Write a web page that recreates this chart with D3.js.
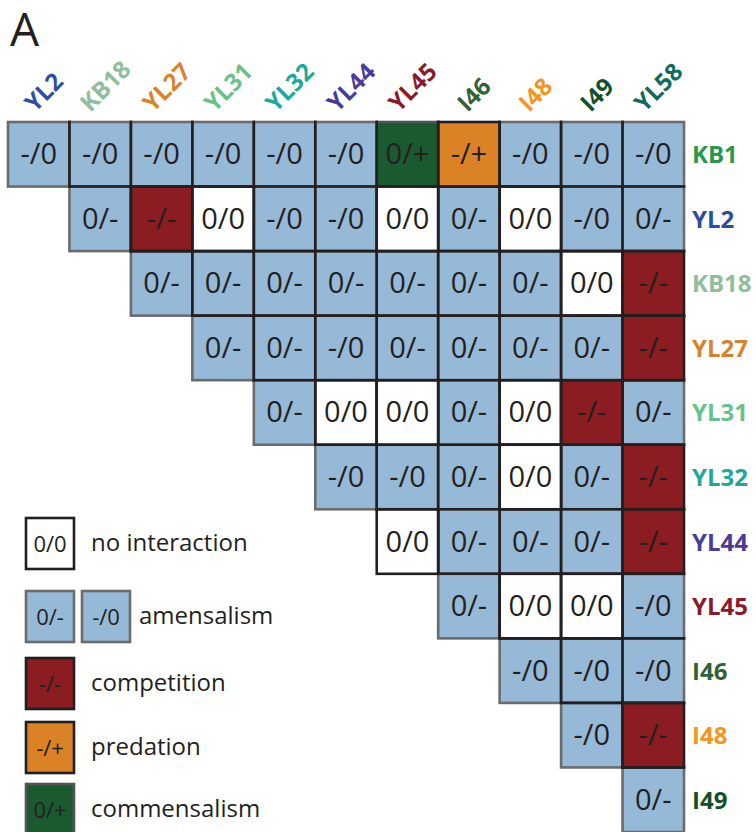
<!DOCTYPE html>
<html>
<head>
<meta charset="utf-8">
<script src="https://cdn.jsdelivr.net/npm/d3@7"></script>
<style>
  html, body { margin: 0; padding: 0; background: #fff; }
  svg { display: block; }
  text { font-family: "Open Sans", "Noto Sans", sans-serif; }
</style>
</head>
<body>
<svg id="chart" width="756" height="832"></svg>
<script>
// ---- data ----
const columns = ["YL2", "KB18", "YL27", "YL31", "YL32", "YL44", "YL45", "I46", "I48", "I49", "YL58"];
const rows = ["KB1", "YL2", "KB18", "YL27", "YL31", "YL32", "YL44", "YL45", "I46", "I48", "I49"];
// each row starts at column index equal to its row index
const interactions = [
  ["-/0", "-/0", "-/0", "-/0", "-/0", "-/0", "0/+", "-/+", "-/0", "-/0", "-/0"],
  ["0/-", "-/-", "0/0", "-/0", "-/0", "0/0", "0/-", "0/0", "-/0", "0/-"],
  ["0/-", "0/-", "0/-", "0/-", "0/-", "0/-", "0/-", "0/0", "-/-"],
  ["0/-", "0/-", "-/0", "0/-", "0/-", "0/-", "0/-", "-/-"],
  ["0/-", "0/0", "0/0", "0/-", "0/0", "-/-", "0/-"],
  ["-/0", "-/0", "0/-", "0/0", "0/-", "-/-"],
  ["0/0", "0/-", "0/-", "0/-", "-/-"],
  ["0/-", "0/0", "0/0", "-/0"],
  ["-/0", "-/0", "-/0"],
  ["-/0", "-/-"],
  ["0/-"]
];
const strainNames = ["KB1", "YL2", "KB18", "YL27", "YL31", "YL32", "YL44", "YL45", "I46", "I48", "I49", "YL58"];
const strainColors = ["#27994a", "#2a4fa3", "#8fbd9d", "#d9822b", "#66c28a", "#1ea89b", "#4a3b9b", "#8b1a2c", "#2e6239", "#f7941d", "#154f2a", "#0e6b61"];
const interactionTypes = ["0/0", "0/-", "-/0", "-/-", "-/+", "0/+"];
const interactionFills = ["#ffffff", "#95b9d7", "#95b9d7", "#8b1c21", "#db8126", "#1b5a31"];
const interactionStrokes = ["#231f20", "#6b6b6b", "#6b6b6b", "#231f20", "#231f20", "#555555"];
const legendItems = [
  { codes: ["0/0"], label: "no interaction" },
  { codes: ["0/-", "-/0"], label: "amensalism" },
  { codes: ["-/-"], label: "competition" },
  { codes: ["-/+"], label: "predation" },
  { codes: ["0/+"], label: "commensalism" }
];
const panelLabel = "A";

// ---- scales ----
const svg = d3.select("#chart");
const x = d3.scaleBand().domain(columns).range([8, 684]).padding(0);
const y = d3.scaleBand().domain(rows).range([122, 832]).padding(0);
const fill = d3.scaleOrdinal().domain(interactionTypes).range(interactionFills);
const stroke = d3.scaleOrdinal().domain(interactionTypes).range(interactionStrokes);
const nameColor = d3.scaleOrdinal().domain(strainNames).range(strainColors);
const ink = "#231f20";

// flatten cells
const cells = [];
interactions.forEach((vals, r) => {
  vals.forEach((v, k) => {
    const c = r + k;
    cells.push({ row: rows[r], col: columns[c], r, c, v });
  });
});
const grayFirst = cells.slice().sort((a, b) => (stroke(a.v) === "#231f20") - (stroke(b.v) === "#231f20"));

// panel label
svg.append("text").attr("x", 10).attr("y", 46).attr("font-size", 46).attr("fill", ink).text(panelLabel);

// cells
const cellG = svg.append("g");
cellG.selectAll("rect").data(grayFirst).join("rect")
  .attr("x", d => x(d.col)).attr("y", d => y(d.row))
  .attr("width", x.bandwidth()).attr("height", y.bandwidth())
  .attr("fill", d => fill(d.v))
  .attr("stroke", d => stroke(d.v))
  .attr("stroke-width", 2.6);

// interior grid lines (dark)
const inner = svg.append("g").attr("stroke", ink).attr("stroke-width", 2.6).attr("stroke-linecap", "square");
cells.forEach(d => {
  if (d.c < columns.length - 1) {
    const xe = x(d.col) + x.bandwidth();
    inner.append("line").attr("x1", xe).attr("x2", xe).attr("y1", y(d.row)).attr("y2", y(d.row) + y.bandwidth());
  }
  if (d.r < rows.length - 1 && d.c >= d.r + 1) {
    const ye = y(d.row) + y.bandwidth();
    inner.append("line").attr("y1", ye).attr("y2", ye).attr("x1", x(d.col)).attr("x2", x(d.col) + x.bandwidth());
  }
});

// cell texts
svg.append("g").selectAll("text").data(cells).join("text")
  .attr("x", d => x(d.col) + x.bandwidth() / 2)
  .attr("y", d => y(d.row) + y.bandwidth() / 2 + 10)
  .attr("text-anchor", "middle")
  .attr("font-size", 29)
  .attr("fill", ink)
  .text(d => d.v);

// column labels (rotated -45, bottoms aligned above the grid)
const colFs = 24, capH = colFs * 0.72, s2 = Math.SQRT1_2;
svg.append("g").selectAll("text").data(columns).join("text")
  .attr("font-size", colFs)
  .attr("font-weight", 700)
  .attr("fill", d => nameColor(d))
  .text(d => d)
  .attr("transform", function (d) {
    const L = this.getComputedTextLength();
    const W = (L + capH) * s2;
    const ox = x(d) + x.bandwidth() / 2 + 5 - W / 2 + capH * s2;
    return `translate(${ox},113) rotate(-45)`;
  });

// row labels
svg.append("g").selectAll("text").data(rows).join("text")
  .attr("x", 692)
  .attr("y", d => y(d) + y.bandwidth() / 2 + 9)
  .attr("font-size", 24)
  .attr("font-weight", 700)
  .attr("fill", d => nameColor(d))
  .text(d => d);

// legend
const legY = [518, 591, 658, 722, 784];
const legend = svg.append("g");
legendItems.forEach((item, i) => {
  const g = legend.append("g").attr("transform", `translate(26,${legY[i]})`);
  item.codes.forEach((code, j) => {
    const bx = j * 56;
    g.append("rect").attr("x", bx).attr("y", 0).attr("width", 48).attr("height", 51)
      .attr("fill", fill(code)).attr("stroke", stroke(code)).attr("stroke-width", 2.6);
    g.append("text").attr("x", bx + 24).attr("y", 25.5 + 8).attr("text-anchor", "middle")
      .attr("font-size", 22).attr("fill", ink).text(code);
  });
  g.append("text").attr("x", 65 + (item.codes.length - 1) * 48).attr("y", 33)
    .attr("font-size", 24).attr("fill", ink).text(item.label);
});
</script>
</body>
</html>
